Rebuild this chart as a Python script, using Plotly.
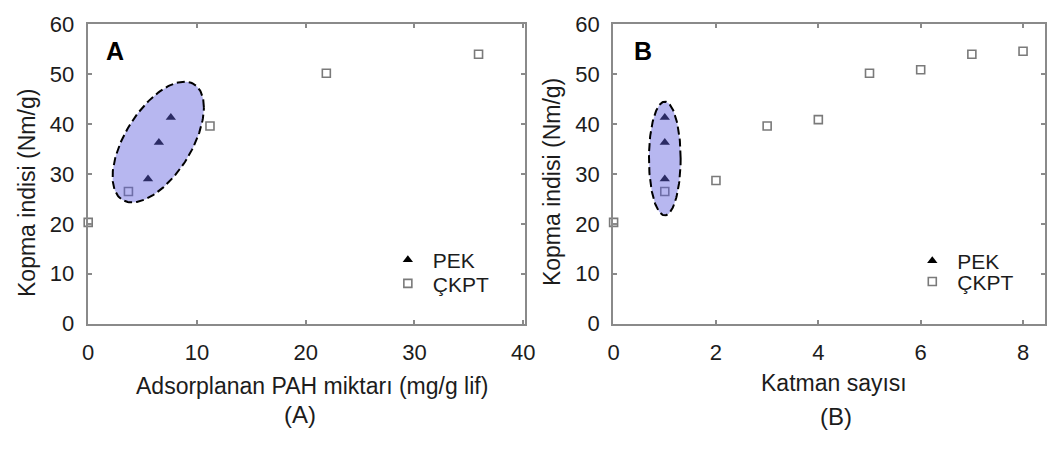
import numpy as np
import plotly.graph_objects as go

# Panel A: tensile index against adsorbed PAH amount
pah_pek = [5.5, 6.5, 7.6]
kopma_pek_a = [29.0, 36.3, 41.3]
pah_ckpt = [0.0, 3.7, 11.2, 21.9, 35.9]
kopma_ckpt_a = [20.3, 26.5, 39.6, 50.2, 54.0]

# Panel B: tensile index against number of layers
katman_pek = [1, 1, 1]
kopma_pek_b = [29.0, 36.3, 41.3]
katman_ckpt = [0, 1, 2, 3, 4, 5, 6, 7, 8]
kopma_ckpt_b = [20.3, 26.5, 28.7, 39.6, 40.9, 50.2, 50.9, 54.0, 54.6]

y_ticks = [0, 10, 20, 30, 40, 50, 60]
xa_ticks = [0, 10, 20, 30, 40]
xb_ticks = [0, 2, 4, 6, 8]

# Highlight regions (centre, half-extents, phase in degrees)
region_a = dict(cx=6.44, cy=36.4, rx=4.2, ry=12.1, phase=55)
region_b = dict(cx=1.0, cy=33.1, rx=0.31, ry=11.4, phase=90)

W, H = 1059, 450
FONT = "Liberation Sans, Arial, sans-serif"
TXT = "#1c1c1c"
AXC = "#8a8a8a"


def px(x):
    return x / W


def py(y):
    return 1 - y / H


def ellipse(cx, cy, rx, ry, phase):
    t = np.linspace(0, 2 * np.pi, 181)
    ph = np.deg2rad(phase)
    return cx + rx * np.cos(t), cy + ry * np.cos(t - ph)


fig = go.Figure()

tri = dict(symbol="triangle-up", size=9, color="black")
sq = dict(symbol="square-open", size=8, color="#7a7a7a", line=dict(width=1.6, color="#7a7a7a"))
fill_col = "rgba(95,95,222,0.45)"
edge = dict(color="black", width=2, dash="8px,4px")

# Panel A
fig.add_trace(go.Scatter(x=pah_pek, y=kopma_pek_a, mode="markers", marker=tri,
                         name="PEK", xaxis="x", yaxis="y", legend="legend", cliponaxis=False))
fig.add_trace(go.Scatter(x=pah_ckpt, y=kopma_ckpt_a, mode="markers", marker=sq,
                         name="ÇKPT", xaxis="x", yaxis="y", legend="legend2", cliponaxis=False))
ex, ey = ellipse(**region_a)
fig.add_trace(go.Scatter(x=ex, y=ey, mode="lines", fill="toself", fillcolor=fill_col,
                         line=edge, showlegend=False, hoverinfo="skip", xaxis="x", yaxis="y"))

# Panel B
fig.add_trace(go.Scatter(x=katman_pek, y=kopma_pek_b, mode="markers", marker=tri,
                         name="PEK", xaxis="x2", yaxis="y2", legend="legend3", cliponaxis=False))
fig.add_trace(go.Scatter(x=katman_ckpt, y=kopma_ckpt_b, mode="markers", marker=sq,
                         name="ÇKPT", xaxis="x2", yaxis="y2", legend="legend4", cliponaxis=False))
ex, ey = ellipse(**region_b)
fig.add_trace(go.Scatter(x=ex, y=ey, mode="lines", fill="toself", fillcolor=fill_col,
                         line=edge, showlegend=False, hoverinfo="skip", xaxis="x2", yaxis="y2"))

axis_common = dict(showline=True, linecolor=AXC, linewidth=2, mirror="ticks",
                   ticks="inside", ticklen=4, tickwidth=1.5, tickcolor=AXC,
                   showgrid=False, zeroline=False,
                   tickfont=dict(family=FONT, size=22, color=TXT))


def legend_at(x, y_center):
    return dict(x=px(x), y=py(y_center - 20), xanchor="left", yanchor="top",
                bgcolor="rgba(0,0,0,0)", itemwidth=40,
                font=dict(family=FONT, size=21, color=TXT))


yd = [py(330), py(13)]
fig.update_layout(
    width=W, height=H,
    margin=dict(l=0, r=0, t=0, b=0),
    paper_bgcolor="white", plot_bgcolor="white",
    xaxis=dict(domain=[px(83), px(527)], range=[-0.05, 40.13], tickvals=xa_ticks,
               anchor="y", ticklabelstandoff=8, **axis_common),
    yaxis=dict(domain=yd, range=[0, 60], tickvals=y_ticks, anchor="x",
               ticklabelstandoff=7, **axis_common),
    xaxis2=dict(domain=[px(617), px(1056)], range=[-0.01, 8.43], tickvals=xb_ticks,
                anchor="y2", ticklabelstandoff=8, **axis_common),
    yaxis2=dict(domain=yd, range=[0, 60], tickvals=y_ticks, anchor="x2",
                ticklabelstandoff=7, **axis_common),
    legend=legend_at(383, 261),
    legend2=legend_at(383, 286),
    legend3=legend_at(916, 262),
    legend4=legend_at(916, 284),
    showlegend=True,
)


def label(text, x, y, size, angle=0, bold=False):
    fig.add_annotation(
        text=f"<b>{text}</b>" if bold else text,
        x=px(x), y=py(y), xref="paper", yref="paper",
        xanchor="center", yanchor="middle", showarrow=False, textangle=angle,
        font=dict(family=FONT, size=size, color=TXT if not bold else "black"))


label("Kopma indisi (Nm/g)", 22, 192, 23, angle=-90)
label("Kopma indisi (Nm/g)", 555, 180, 23, angle=-90)
label("Adsorplanan PAH miktarı (mg/g lif)", 311, 396, 23)
label("Katman sayısı", 842, 393, 23)
label("(A)", 299, 426, 24)
label("(B)", 844, 428, 24)
label("A", 111, 41, 25, bold=True)
label("B", 647, 41, 25, bold=True)

fig.write_html("out.html")
